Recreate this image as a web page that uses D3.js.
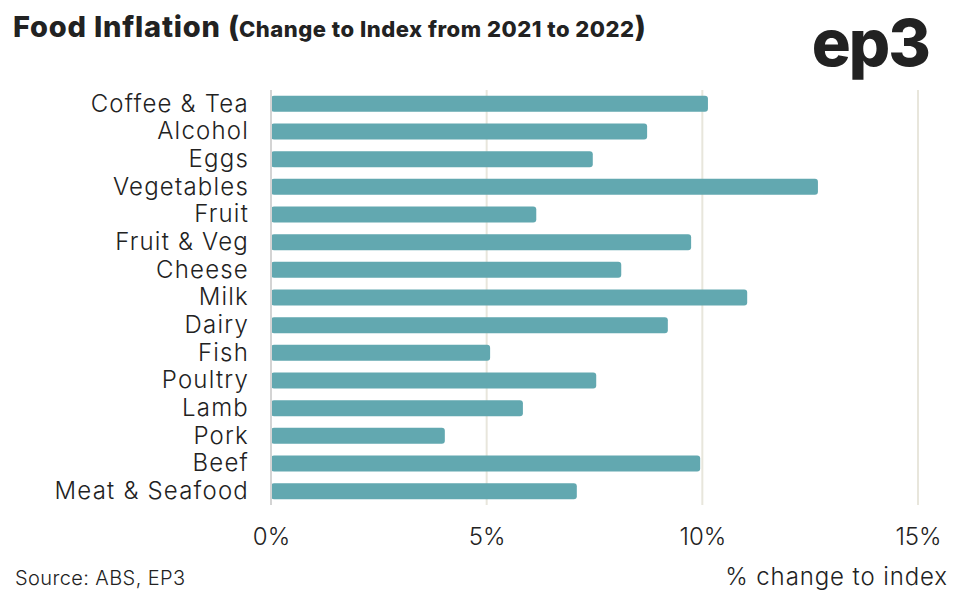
<!DOCTYPE html>
<html>
<head>
<meta charset="utf-8">
<script src="https://cdn.jsdelivr.net/npm/d3@7"></script>
<style>
  body { margin: 0; background: #fff; }
  text { font-family: Inter, "Noto Sans", sans-serif; fill: #222; }
</style>
</head>
<body>
<div id="chart"></div>
<script>
// categories top to bottom
const categories = ['Coffee & Tea', 'Alcohol', 'Eggs', 'Vegetables', 'Fruit', 'Fruit & Veg',
    'Cheese', 'Milk', 'Dairy', 'Fish', 'Poultry', 'Lamb', 'Pork', 'Beef', 'Meat & Seafood'];
// % change to index, 2021 to 2022
const values = [10.13, 8.72, 7.46, 12.68, 6.15, 9.74, 8.12, 11.04, 9.2, 5.08, 7.54, 5.84, 4.03, 9.95, 7.09];
const ticks = [0, 5, 10, 15];

const width = 956, height = 597;
const margin = { top: 90, right: 38, bottom: 92, left: 271 };

const svg = d3.select('#chart').append('svg')
    .attr('width', width)
    .attr('height', height);

const x = d3.scaleLinear().domain([0, 15]).range([margin.left, width - margin.right]);
const y = d3.scaleBand().domain(categories)
    .range([margin.top, height - margin.bottom])
    .paddingInner(0.42).paddingOuter(0.21);

// gridlines
svg.append('g').selectAll('line')
    .data(ticks.filter(t => t > 0))
    .join('line')
    .attr('x1', d => x(d)).attr('x2', d => x(d))
    .attr('y1', margin.top).attr('y2', height - margin.bottom)
    .attr('stroke', '#e8e6dc')
    .attr('stroke-width', 2);

// bars
svg.append('g').selectAll('rect')
    .data(values)
    .join('rect')
    .attr('x', x(0))
    .attr('y', (d, i) => y(categories[i]))
    .attr('width', d => x(d) - x(0))
    .attr('height', y.bandwidth())
    .attr('rx', 3)
    .attr('fill', '#62a8b0');

// left axis line
svg.append('line')
    .attr('x1', x(0)).attr('x2', x(0))
    .attr('y1', margin.top).attr('y2', height - margin.bottom)
    .attr('stroke', '#d4d4d4')
    .attr('stroke-width', 2);

// category labels
const yAxis = svg.append('g')
    .attr('transform', `translate(${x(0) - 22},0)`)
    .call(d3.axisLeft(y).tickSize(0).tickPadding(0));
yAxis.select('.domain').remove();
yAxis.selectAll('text')
    .style('font-family', 'Inter, sans-serif')
    .style('font-size', '24px')
    .style('font-weight', 300)
    .style('letter-spacing', '1.2px')
    .attr('fill', '#222');

// x tick labels
const xAxis = svg.append('g')
    .attr('transform', `translate(0,528)`)
    .call(d3.axisBottom(x).tickValues(ticks).tickFormat(d => d + '%').tickSize(0).tickPadding(0));
xAxis.select('.domain').remove();
xAxis.selectAll('text')
    .style('font-family', 'Inter, sans-serif')
    .style('font-size', '24px')
    .style('font-weight', 300)
    .attr('fill', '#222');

// title
const title = svg.append('text')
    .attr('x', 13).attr('y', 37)
    .attr('font-weight', 800);
title.append('tspan')
    .attr('font-size', 29)
    .attr('letter-spacing', 0.8)
    .text('Food Inflation ');
title.append('tspan')
    .attr('font-size', 29)
    .text('(');
title.append('tspan')
    .attr('font-size', 22)
    .attr('letter-spacing', 0.5)
    .text('Change to Index from 2021 to 2022');
title.append('tspan')
    .attr('font-size', 29)
    .text(')');

// logo
svg.append('text')
    .attr('x', 929).attr('y', 66)
    .attr('text-anchor', 'end')
    .attr('font-weight', 800)
    .attr('font-size', 65)
    .attr('letter-spacing', -2)
    .text('ep3');

// footer
svg.append('text')
    .attr('x', 15).attr('y', 585)
    .attr('font-size', 20)
    .attr('font-weight', 300)
    .attr('letter-spacing', 0.4)
    .text('Source: ABS, EP3');

svg.append('text')
    .attr('x', 948).attr('y', 585)
    .attr('text-anchor', 'end')
    .attr('font-size', 24)
    .attr('font-weight', 300)
    .attr('letter-spacing', 0.9)
    .text('% change to index');
</script>
</body>
</html>
